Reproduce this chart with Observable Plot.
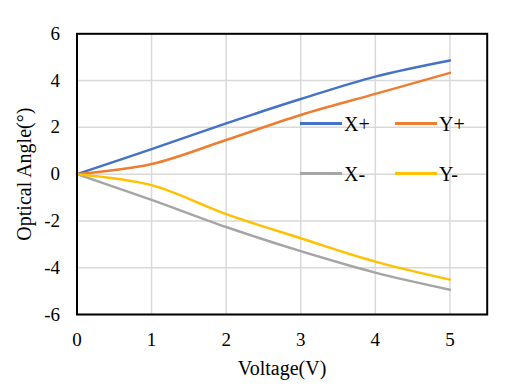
<!DOCTYPE html>
<html>
<head>
<meta charset="utf-8">
<script src="https://cdn.jsdelivr.net/npm/d3@7"></script>
<script src="https://cdn.jsdelivr.net/npm/@observablehq/plot@0.6"></script>
<style>
  body { margin: 0; background: #fff; }
  #wrap { position: relative; width: 514px; height: 387px; font-family: "Liberation Serif", "Times New Roman", serif; }
  #wrap svg text { font-family: "Liberation Serif", "Times New Roman", serif; }
  .leg { position: absolute; display: flex; align-items: center; font-size: 20px; color: #000; line-height: 1; }
  .leg span.sw { display: inline-block; width: 42px; height: 3px; margin-right: 2px; }
</style>
</head>
<body>
<div id="wrap"></div>
<script>
const voltage = [0, 1, 2, 3, 4, 5];
const xPlus  = [0, 1.07, 2.17, 3.21, 4.17, 4.86];
const yPlus  = [0, 0.43, 1.46, 2.53, 3.43, 4.33];
const xMinus = [0, -1.10, -2.26, -3.29, -4.21, -4.94];
const yMinus = [0, -0.47, -1.71, -2.74, -3.74, -4.51];
const seriesNames = ["X+", "Y+", "X-", "Y-"];
const seriesValues = [xPlus, yPlus, xMinus, yMinus];
const colors = ["#4472C4", "#ED7D31", "#A5A5A5", "#FFC000"];
const xTicks = [0, 1, 2, 3, 4, 5];
const yTicks = [-6, -4, -2, 0, 2, 4, 6];

const rows = [];
seriesNames.forEach((s, i) => voltage.forEach((v, j) => rows.push({series: s, v, a: seriesValues[i][j]})));

const serif = "'Liberation Serif', 'Times New Roman', serif";
const fmt = d => String(d);

const plot = Plot.plot({
  width: 514,
  height: 387,
  marginLeft: 76.5,
  marginRight: 27.3,
  marginTop: 33.3,
  marginBottom: 73,
  style: {fontFamily: serif, fontSize: "19px", color: "#000", background: "#fff"},
  x: {domain: [0, 5.5]},
  y: {domain: [-6, 6]},
  color: {domain: seriesNames, range: colors},
  marks: [
    Plot.gridX(xTicks.filter(d => d > 0), {stroke: "#d9d9d9", strokeOpacity: 1, strokeWidth: 1.5}),
    Plot.gridY(yTicks, {stroke: "#d9d9d9", strokeOpacity: 1, strokeWidth: 1.5}),
    Plot.axisX({ticks: xTicks, tickFormat: fmt, tickSize: 0, tickPadding: 18, fontSize: 19, fontFamily: serif, label: "Voltage(V)", labelAnchor: "center", labelArrow: "none", labelOffset: 60}),
    Plot.axisY({ticks: yTicks, tickFormat: fmt, tickSize: 0, tickPadding: 17, fontSize: 19, fontFamily: serif, label: "Optical Angle(°)", labelAnchor: "center", labelArrow: "none", labelOffset: 60}),
    Plot.line(rows, {x: "v", y: "a", z: "series", stroke: "series", strokeWidth: 2.5, curve: "catmull-rom"}),
    Plot.frame({stroke: "#000", strokeWidth: 2})
  ]
});
plot.querySelectorAll("g[aria-label='x-axis label'] text, g[aria-label='y-axis label'] text").forEach(t => t.setAttribute("font-size", "20"));
const wrap = document.getElementById("wrap");
wrap.appendChild(plot);

const legPos = [[300, 123.5], [395, 123.5], [300, 173.5], [395, 173.5]];
seriesNames.forEach((s, i) => {
  const d = document.createElement("div");
  d.className = "leg";
  d.style.left = legPos[i][0] + "px";
  d.style.top = (legPos[i][1] - 10) + "px";
  d.style.height = "20px";
  d.innerHTML = `<span class="sw" style="background:${colors[i]}"></span><span>${s}</span>`;
  wrap.appendChild(d);
});
</script>
</body>
</html>
